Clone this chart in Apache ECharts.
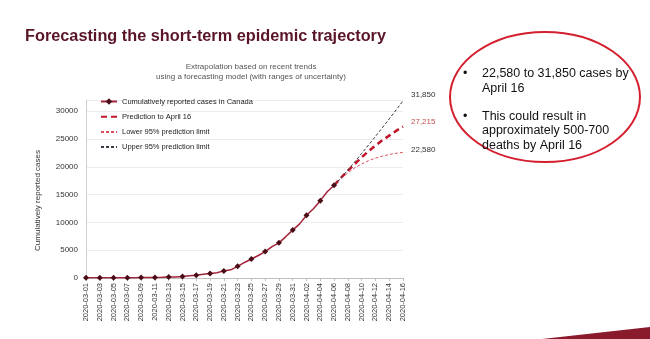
<!DOCTYPE html>
<html>
<head>
<meta charset="utf-8">
<script src="https://cdn.jsdelivr.net/npm/echarts@6/dist/echarts.min.js"></script>
<style>
html,body{margin:0;padding:0;background:#fff;}
#c{width:650px;height:339px;}
</style>
</head>
<body>
<div id="c"></div>
<script>
const dates = ["2020-03-01","2020-03-02","2020-03-03","2020-03-04","2020-03-05","2020-03-06","2020-03-07","2020-03-08","2020-03-09","2020-03-10","2020-03-11","2020-03-12","2020-03-13","2020-03-14","2020-03-15","2020-03-16","2020-03-17","2020-03-18","2020-03-19","2020-03-20","2020-03-21","2020-03-22","2020-03-23","2020-03-24","2020-03-25","2020-03-26","2020-03-27","2020-03-28","2020-03-29","2020-03-30","2020-03-31","2020-04-01","2020-04-02","2020-04-03","2020-04-04","2020-04-05","2020-04-06","2020-04-07","2020-04-08","2020-04-09","2020-04-10","2020-04-11","2020-04-12","2020-04-13","2020-04-14","2020-04-15","2020-04-16"];
const reported = [24,27,30,34,37,49,54,64,77,79,108,117,193,198,252,415,478,657,800,943,1277,1469,2091,2792,3409,4043,4757,5655,6320,7448,8612,9731,11284,12437,13904,15512,16667];
// forecasts from 2020-04-06 to 2020-04-16
const forecastStart = 36;
const prediction = [16667,18000,19300,20500,21700,22800,23800,24750,25600,26450,27215];
const lower95 = [16667,17900,18900,19800,20500,21100,21550,21900,22200,22420,22580];
const upper95 = [16667,18000,19400,20900,22400,23900,25450,27000,28600,30200,31850];
const endLabels = {prediction:"27,215", lower:"22,580", upper:"31,850"};
const yTicks = [0,5000,10000,15000,20000,25000,30000];
const seriesNames = ["Cumulatively reported cases in Canada","Prediction to April 16","Lower 95% prediction limit","Upper 95% prediction limit"];

function pad(arr){ const out = []; for(let i=0;i<forecastStart;i++) out.push('-'); return out.concat(arr); }

const chart = echarts.init(document.getElementById('c'), null, {renderer:'canvas'});
const FF = '"Liberation Sans", Arial, sans-serif';
chart.setOption({
  animation:false,
  backgroundColor:'#fff',
  title:[
    {text:'Forecasting the short-term epidemic trajectory', left:25, top:29, padding:0,
     textStyle:{fontFamily:FF, fontSize:16.3, fontWeight:'bold', color:'#5a1627'}},
    {text:'Extrapolation based on recent trends\nusing a forecasting model (with ranges of uncertainty)', left:246, top:57, textAlign:'center',
     textStyle:{fontFamily:FF, fontSize:8, fontWeight:'normal', color:'#555', lineHeight:10}}
  ],
  grid:{left:86, right:247, top:100, bottom:61},
  legend:{
    orient:'vertical', left:100, top:97.5, padding:0, itemWidth:16, itemHeight:8, itemGap:7.2,
    data:[
      {name:seriesNames[0]},
      {name:seriesNames[1], itemStyle:{opacity:0}},
      {name:seriesNames[2], itemStyle:{opacity:0}},
      {name:seriesNames[3], itemStyle:{opacity:0}}
    ],
    textStyle:{fontFamily:FF, fontSize:7.5, color:'#222'}
  },
  xAxis:{
    type:'category', data:dates, boundaryGap:false,
    axisLine:{lineStyle:{color:'#bfbfbf'}},
    axisTick:{show:true, interval:1, length:3, lineStyle:{color:'#bfbfbf'}},
    axisLabel:{interval:1, rotate:90, fontSize:7.5, color:'#333', margin:5, fontFamily:FF},
    splitLine:{show:false}
  },
  yAxis:{
    type:'value', min:0, max:32000, interval:5000,
    axisLine:{show:true, lineStyle:{color:'#d0d0d0'}},
    axisTick:{show:false},
    axisLabel:{fontSize:8, color:'#333', fontFamily:FF, margin:8,
      formatter:function(v){ return yTicks.indexOf(v)>=0 ? String(v) : ''; }},
    splitLine:{lineStyle:{color:'#ececec'}}
  },
  series:[
    {name:seriesNames[0], type:'line', data:reported, symbol:'diamond', symbolSize:6,
     lineStyle:{color:'#a3233a', width:1.5}, itemStyle:{color:'#4a0d18'}, z:5},
    {name:seriesNames[1], type:'line', data:pad(prediction), symbol:'none',
     lineStyle:{color:'#c0152a', width:2.5, type:[6,4]}, itemStyle:{color:'#c0152a'},
     endLabel:{show:true, formatter:endLabels.prediction, color:'#c0504d', fontSize:8, fontFamily:FF, distance:8, offset:[0,-5]}},
    {name:seriesNames[2], type:'line', data:pad(lower95), symbol:'none',
     lineStyle:{color:'#d9545f', width:1, type:[3,2]}, itemStyle:{color:'#d9545f'},
     endLabel:{show:true, formatter:endLabels.lower, color:'#333', fontSize:8, fontFamily:FF, distance:8, offset:[0,-3]}},
    {name:seriesNames[3], type:'line', data:pad(upper95), symbol:'none',
     lineStyle:{color:'#3a3a48', width:1, type:[3,2]}, itemStyle:{color:'#3a3a48'},
     endLabel:{show:true, formatter:endLabels.upper, color:'#333', fontSize:8, fontFamily:FF, distance:8, offset:[0,-6]}}
  ],
  graphic:[
    {type:'text', left:34, top:150, rotation:Math.PI/2, style:{text:'Cumulatively reported cases', fontSize:8, fill:'#333', fontFamily:FF}},
    {type:'ellipse', shape:{cx:545, cy:97, rx:95, ry:65}, style:{fill:'none', stroke:'#d41f2f', lineWidth:2}},
    {type:'text', x:463, y:67, style:{text:'•', fontSize:12.5, fill:'#111', fontFamily:FF}},
    {type:'text', x:482, y:66, style:{text:'22,580 to 31,850 cases by\nApril 16', fontSize:12.5, lineHeight:15, fill:'#111', fontFamily:FF}},
    {type:'text', x:463, y:110, style:{text:'•', fontSize:12.5, fill:'#111', fontFamily:FF}},
    {type:'text', x:482, y:109, style:{text:'This could result in\napproximately 500-700\ndeaths by April 16', fontSize:12.5, lineHeight:14.5, fill:'#111', fontFamily:FF}},
    {type:'polygon', shape:{points:[[542,339],[650,327],[650,339]]}, style:{fill:'#8a1b2c'}}
  ]
});
</script>
</body>
</html>
